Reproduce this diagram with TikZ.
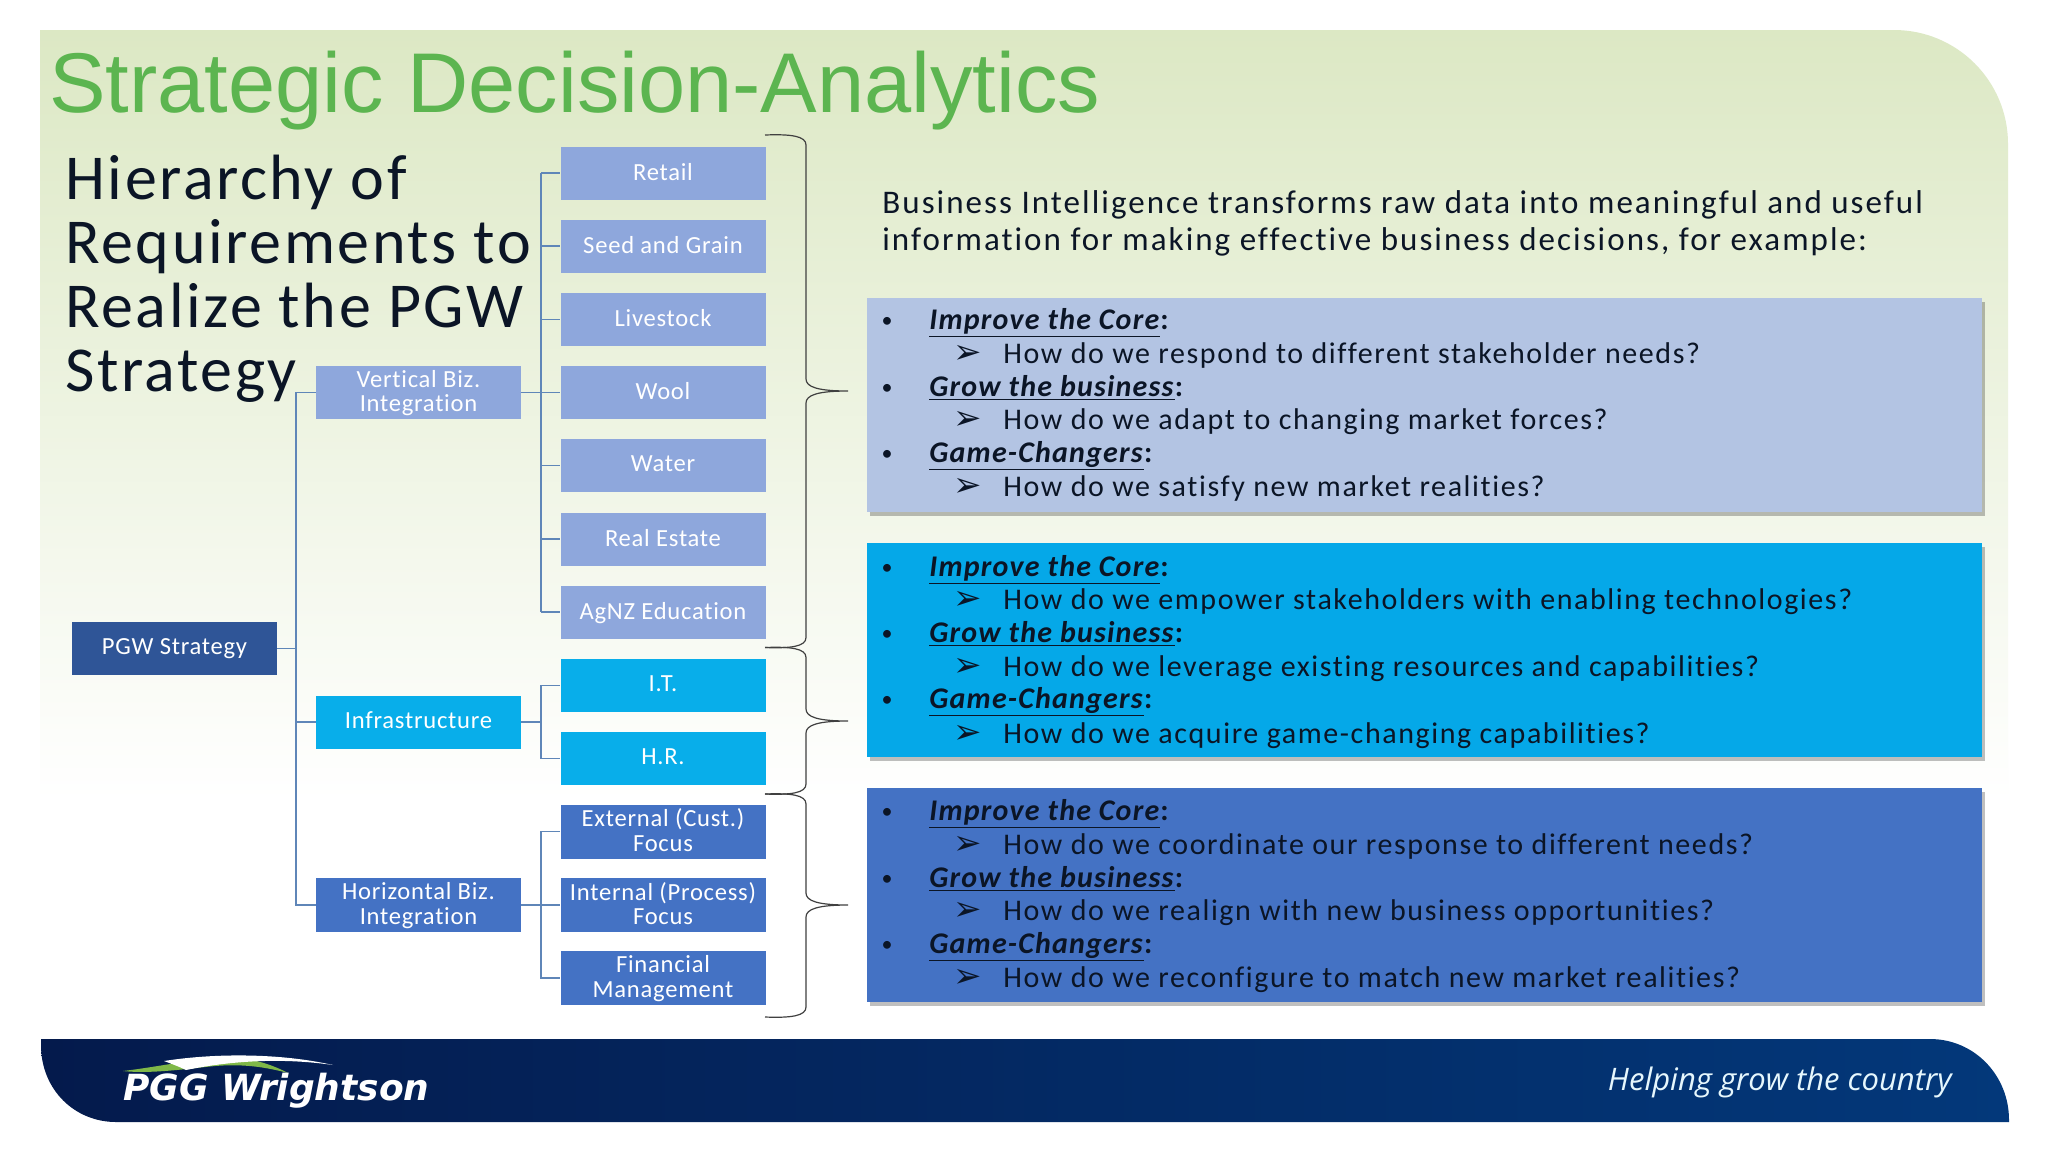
\documentclass[tikz,border=0pt]{standalone}
\usepackage{fontspec}
\setmainfont[Ligatures=NoCommon]{Carlito}
\newfontfamily\arialf{Liberation Sans}
\newfontfamily\dingf{DejaVu Sans}
\newfontfamily\opf{Open Sans}
\usetikzlibrary{shadows,calc}
\definecolor{titlegreen}{HTML}{5CB550}
\definecolor{bgtop}{HTML}{DCE8C4}
\definecolor{lineblue}{HTML}{5F86B8}
\definecolor{lightbox}{HTML}{8EA7DC}
\definecolor{cyanbox}{HTML}{08AEEA}
\definecolor{midbox}{HTML}{4472C4}
\definecolor{darkbox}{HTML}{2F5597}
\definecolor{panelA}{HTML}{B3C4E3}
\definecolor{panelB}{HTML}{05A8E8}
\definecolor{panelC}{HTML}{4472C4}
\definecolor{inktext}{HTML}{0B1526}
\definecolor{footL}{HTML}{041A4C}
\definecolor{footR}{HTML}{03387A}
\definecolor{swgreen}{HTML}{7FB848}
\tikzset{
  orgbox/.style={inner sep=0pt,align=center,text=white,font=\fontsize{12.3}{12.4}\selectfont\addfontfeature{LetterSpace=3},text depth=1.5pt},
  leafL/.style={orgbox,fill=lightbox,minimum width=102.5pt,minimum height=26.5pt},
  leafC/.style={orgbox,fill=cyanbox,minimum width=102.5pt,minimum height=26.5pt},
  leafM/.style={orgbox,fill=midbox,minimum width=102.5pt,minimum height=27pt},
  conn/.style={draw=lineblue,line width=0.8pt},
  bracket/.style={draw=black!75,line width=0.6pt},
  panel/.style={minimum width=557.5pt,minimum height=107pt,inner sep=0pt,drop shadow={shadow xshift=1.5pt,shadow yshift=-2pt,opacity=.25,fill=black}},
  bul/.style={anchor=base,text=inktext,font=\fontsize{11}{11}\selectfont,inner sep=0pt},
  head/.style={anchor=base west,text=inktext,font=\fontsize{15}{15}\selectfont\bfseries\addfontfeature{LetterSpace=4},inner sep=0pt},
  arr/.style={anchor=base,text=inktext,font=\fontsize{17}{17}\dingf,inner sep=0pt},
  ques/.style={anchor=base west,text=inktext,font=\fontsize{15}{15}\selectfont\addfontfeature{LetterSpace=5.3},inner sep=0pt},
  intro/.style={anchor=base west,inner sep=0pt,text=inktext,font=\fontsize{16.5}{18.5}\selectfont\addfontfeature{LetterSpace=6.2}},
}
\newcommand{\qa}[3]{%
  \node[bul] (#1b) at (887,#2+7) {•};
  \node[head] (#1h) at (929,#2+9) {\underline{\textit{#3}}:};
}
\newcommand{\qb}[3]{%
  \node[arr] (#1a) at (968,#2+10) {➢};
  \node[ques] (#1q) at (1003,#2+10) {#3};
}
\newcommand{\brc}[3]{%
  \draw[bracket] (#1) .. controls ($(#1)+(26,-1)$) and ($(#1)+(41,1)$) .. ($(#1)+(41,10)$)
   -- ($(#2)+(-42,-12)$) .. controls ($(#2)+(-42,-4)$) and ($(#2)+(-30,0)$) .. (#2)
   .. controls ($(#2)+(-30,0)$) and ($(#2)+(-42,4)$) .. ($(#2)+(-42,12)$)
   -- ($(#3)+(41,-10)$) .. controls ($(#3)+(41,-1)$) and ($(#3)+(26,1)$) .. (#3);
}
\begin{document}
\begin{tikzpicture}[x=0.5pt,y=-0.5pt]
\useasboundingbox (0,0) rectangle (2048,1152);
\fill[white] (0,0) rectangle (2048,1152);
% background
\shade[top color=bgtop,bottom color=white] (40,30) -- (1894,30) .. controls (1957,30) and (2008,81) .. (2008,144) -- (2008,800) -- (40,800) -- cycle;
% footer
\shade[left color=footL,right color=footR] (41,1039) -- (1930,1039) .. controls (1974,1039) and (2009,1075) .. (2009,1120) -- (2009,1122) -- (116,1122) .. controls (75,1122) and (41,1090) .. (41,1045) -- cycle;
% logo
\fill[swgreen] (123,1071) .. controls (165,1066) and (205,1056) .. (240,1058) .. controls (258,1060) and (275,1066) .. (288,1073) .. controls (262,1066) and (240,1064) .. (215,1066) .. controls (185,1069) and (150,1074) .. (123,1071) -- cycle;
\fill[white] (164,1061) .. controls (215,1053) and (280,1053) .. (333,1065) .. controls (285,1058) and (235,1060) .. (186,1070) .. controls (180,1067) and (172,1064) .. (164,1061) -- cycle;
\node[anchor=base west,inner sep=0pt,text=white,font=\fontsize{18}{18}\dingf\bfseries\itshape] (logo) at (123,1100) {PGG Wrightson};
\node[anchor=base east,inner sep=0pt,text=white!90!cyan,font=\fontsize{15.5}{15.5}\opf\itshape] (tag) at (1952,1090) {Helping grow the country};
% title
\node[anchor=base west,inner sep=0pt,text=titlegreen,font=\fontsize{42.4}{44}\arialf] (title) at (49,112) {Strategic Decision-Analytics};
\node[anchor=north west,inner sep=0pt,align=left,text=inktext,font=\fontsize{32}{32}\selectfont\addfontfeature{LetterSpace=4}] (hier) at (65,155) {Hierarchy of\\Requirements to\\Realize the PGW\\Strategy};
% org boxes
\node[orgbox,fill=darkbox,minimum width=102.5pt,minimum height=26.5pt] (pgw) at (174.5,648.5) {PGW Strategy};
\node[leafL] (vert) at (418.5,392.5) {Vertical Biz.\\Integration};
\node[leafC] (infra) at (418.5,722) {Infrastructure};
\node[leafM] (horiz) at (418.5,905) {Horizontal Biz.\\Integration};
\node[leafL] (retail) at (663,173) {Retail};
\node[leafL] (seed) at (663,246) {Seed and Grain};
\node[leafL] (live) at (663,319.5) {Livestock};
\node[leafL] (wool) at (663,392.5) {Wool};
\node[leafL] (water) at (663,465.5) {Water};
\node[leafL] (real) at (663,539) {Real Estate};
\node[leafL] (agnz) at (663,612) {AgNZ Education};
\node[leafC] (it) at (663,685.5) {I.T.};
\node[leafC] (hr) at (663,758.5) {H.R.};
\node[leafM] (ext) at (663,831.5) {External (Cust.)\\Focus};
\node[leafM] (int) at (663,905) {Internal (Process)\\Focus};
\node[leafM] (fin) at (663,978) {Financial\\Management};
% connectors
\coordinate (t1) at (296,648.5);
\coordinate (t2) at (541,392.5);
\coordinate (t3) at (541,722);
\coordinate (t4) at (541,905);
\draw[conn] (pgw.east) -- (t1);
\draw[conn] (vert.west) -| (t1) |- (horiz.west);
\draw[conn] (t1 |- infra.west) -- (infra.west);
\draw[conn] (vert.east) -- (wool.west);
\foreach \n in {retail,seed,live,water,real,agnz}{\draw[conn] (t2 |- \n.west) -- (\n.west);}
\draw[conn] (t2 |- retail.west) -- (t2 |- agnz.west);
\draw[conn] (infra.east) -- (t3);
\draw[conn] (it.west) -| (t3) |- (hr.west);
\draw[conn] (horiz.east) -- (int.west);
\draw[conn] (ext.west) -| (t4) |- (fin.west);
% braces
\coordinate (ba) at (765,135); \coordinate (bb) at (765,647.5); \coordinate (bc) at (765,794); \coordinate (bd) at (765,1017);
\coordinate (ta) at (848,391); \coordinate (tb) at (848,721); \coordinate (tc) at (848,905);
\brc{ba}{ta}{bb}
\brc{bb}{tb}{bc}
\brc{bc}{tc}{bd}
% intro
\node[intro] (intro) at (882,213) {Business Intelligence transforms raw data into meaningful and useful};
\node[intro] (introb) at (882,250) {information for making effective business decisions, for example:};
% panels
\node[panel,fill=panelA] (pa) at (1424.5,404.5) {};
\node[panel,fill=panelB] (pb) at (1424.5,650) {};
\node[panel,fill=panelC] (pc) at (1424.5,895) {};
\qa{a1}{320}{Improve the Core}
\qb{a2}{353}{How do we respond to different stakeholder needs?}
\qa{a3}{387}{Grow the business}
\qb{a4}{419}{How do we adapt to changing market forces?}
\qa{a5}{453}{Game-Changers}
\qb{a6}{486}{How do we satisfy new market realities?}
\qa{b1}{567}{Improve the Core}
\qb{b2}{599}{How do we empower stakeholders with enabling technologies?}
\qa{b3}{633}{Grow the business}
\qb{b4}{666}{How do we leverage existing resources and capabilities?}
\qa{b5}{699}{Game-Changers}
\qb{b6}{733}{How do we acquire game-changing capabilities?}
\qa{c1}{811}{Improve the Core}
\qb{c2}{844}{How do we coordinate our response to different needs?}
\qa{c3}{878}{Grow the business}
\qb{c4}{910}{How do we realign with new business opportunities?}
\qa{c5}{944}{Game-Changers}
\qb{c6}{977}{How do we reconfigure to match new market realities?}
\end{tikzpicture}
\end{document}
